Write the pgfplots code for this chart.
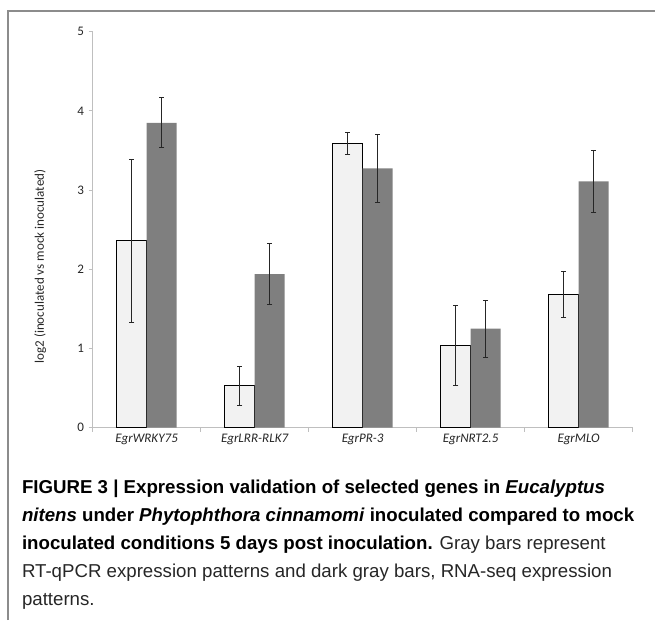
\documentclass[border=0pt]{standalone}
\usepackage{fontspec}
\setmainfont{Carlito}
\newfontfamily\capfont{Liberation Sans}
\usepackage{pgfplots}
\pgfplotsset{compat=1.18}
\definecolor{lightbar}{HTML}{F2F2F2}
\definecolor{darkbar}{HTML}{7F7F7F}
\definecolor{axgray}{HTML}{BFBFBF}
\definecolor{framegray}{HTML}{8C8C8C}

\begin{document}
\begin{tikzpicture}
\path[use as bounding box] (0,0) rectangle (491.25pt,-465pt);
\draw[framegray, line width=1pt] (6pt,-465pt) -- (6pt,-8.25pt) -- (491.25pt,-8.25pt);
\begin{axis}[
  at={(69.5pt,-320.8pt)}, anchor=south west,
  scale only axis, width=405pt, height=297pt,
  ybar=0pt, bar width=22.5pt,
  xmin=-0.5, xmax=4.5, ymin=0, ymax=5,
  axis x line*=bottom, axis y line*=left,
  axis line style={draw=axgray, line width=0.75pt, -},
  tick align=outside, major tick length=3pt,
  tick style={draw=axgray, line width=0.75pt},
  ytick={0,1,2,3,4,5},
  xtick={-0.5,0.5,1.5,2.5,3.5,4.5}, xticklabels={},
  extra x ticks={0,1,2,3,4},
  extra x tick labels={EgrWRKY75,EgrLRR-RLK7,EgrPR-3,EgrNRT2.5,EgrMLO},
  extra x tick style={major tick length=0pt, tick style={draw=none},
    ticklabel style={font=\fontsize{9.8}{11}\selectfont\itshape, yshift=-1.5pt}},
  ticklabel style={font=\fontsize{9.8}{11}\selectfont, text=black!85},
  /pgf/number format/assume math mode=true,
  ylabel={log2 (inoculated vs mock inoculated)},
  ylabel style={at={(axis description cs:-0.097,0.407)}, anchor=center,
    font=\fontsize{9.8}{11}\selectfont, text=black!85},
  clip=false,
]
\addplot[fill=lightbar, draw=black, line width=0.8pt,
  error bars/.cd, y dir=both, y explicit,
  error bar style={line width=0.6pt, black!85},
  error mark options={rotate=90, mark size=2pt, line width=0.6pt, black!85}]
  coordinates {
  (0,2.36) +- (0,1.03)
  (1,0.53) +- (0,0.245)
  (2,3.59) +- (0,0.14)
  (3,1.04) +- (0,0.505)
  (4,1.68) +- (0,0.29)
};
\addplot[fill=darkbar, draw=none,
  error bars/.cd, y dir=both, y explicit,
  error bar style={line width=0.6pt, black!85},
  error mark options={rotate=90, mark size=2pt, line width=0.6pt, black!85}]
  coordinates {
  (0,3.85) +- (0,0.315)
  (1,1.94) +- (0,0.385)
  (2,3.275) +- (0,0.425)
  (3,1.25) +- (0,0.36)
  (4,3.11) +- (0,0.39)
};
\end{axis}
\begin{scope}[every node/.style={anchor=base west, inner sep=0pt,
    font=\capfont\fontsize{14}{17}\selectfont}]
\node at (16.3pt,-370pt) {\bfseries FIGURE 3 | Expression validation of selected genes in \textit{Eucalyptus}};
\node at (16.3pt,-391pt) {\bfseries \textit{nitens} under \textit{Phytophthora cinnamomi} inoculated compared to mock};
\node at (16.3pt,-412pt) {\textbf{inoculated conditions 5 days post inoculation.} \textcolor{black!85}{Gray bars represent}};
\node[text=black!85] at (16.3pt,-433pt) {RT-qPCR expression patterns and dark gray bars, RNA-seq expression};
\node[text=black!85] at (16.3pt,-454pt) {patterns.};
\end{scope}
\end{tikzpicture}
\end{document}
